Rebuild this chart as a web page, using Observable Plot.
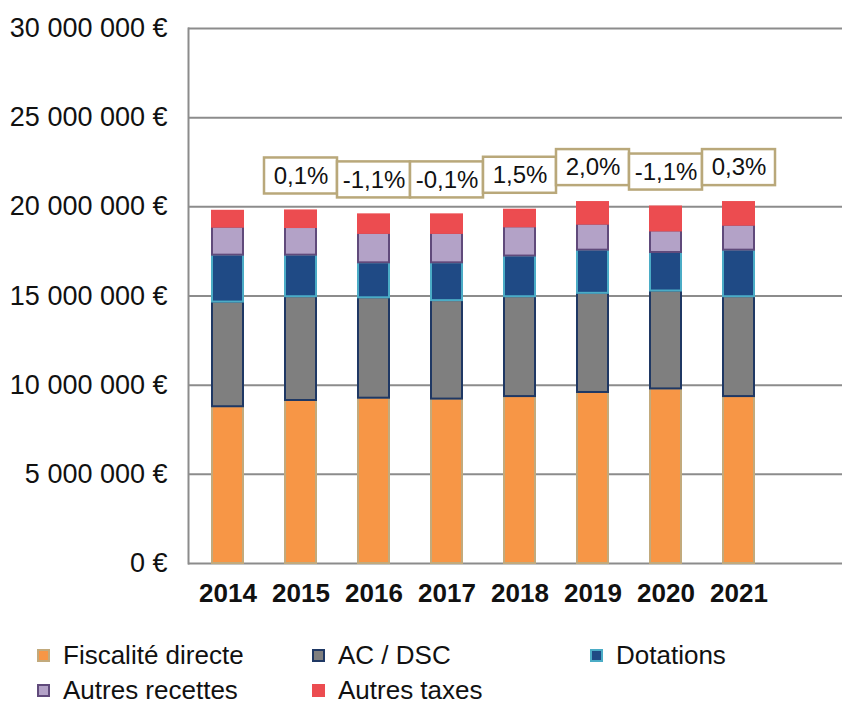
<!DOCTYPE html>
<html>
<head>
<meta charset="utf-8">
<script src="https://cdn.jsdelivr.net/npm/d3@7"></script>
<script src="https://cdn.jsdelivr.net/npm/@observablehq/plot@0.6"></script>
<style>
  body { margin: 0; background: #fff; font-family: "Liberation Sans", Arial, sans-serif; overflow: hidden; }
  #chart svg { display: block; }
  #legend { position: relative; width: 842px; height: 85px; }
  .li { position: absolute; display: flex; align-items: center; font-size: 26px; color: #111; line-height: 30px; height: 30px; white-space: nowrap; }
  .sw { width: 9px; height: 9px; border: 2px solid; margin-right: 13px; }
</style>
</head>
<body>
<div id="chart"></div>
<div id="legend"></div>
<script>
// ---- data ----
const years = ["2014", "2015", "2016", "2017", "2018", "2019", "2020", "2021"];
const series = ["Fiscalité directe", "AC / DSC", "Dotations", "Autres recettes", "Autres taxes"];
// values in euros
const fiscaliteDirecte = [8790000, 9140000, 9270000, 9220000, 9360000, 9590000, 9790000, 9360000];
const acDsc            = [5870000, 5820000, 5630000, 5520000, 5600000, 5560000, 5490000, 5600000];
const dotations        = [2630000, 2330000, 1960000, 2120000, 2280000, 2420000, 2160000, 2610000];
const autresRecettes   = [1570000, 1550000, 1650000, 1650000, 1640000, 1460000, 1210000, 1400000];
const autresTaxes      = [ 890000,  930000, 1040000, 1040000,  930000, 1210000, 1340000, 1270000];
const variationYears = ["2015", "2016", "2017", "2018", "2019", "2020", "2021"];
const variations = ["0,1%", "-1,1%", "-0,1%", "1,5%", "2,0%", "-1,1%", "0,3%"];
const yTicks = [0, 5000000, 10000000, 15000000, 20000000, 25000000, 30000000];

// ---- styles ----
const fills   = ["#f79646", "#7f7f7f", "#1f4a85", "#b3a2c7", "#ec4c50"];
const strokes = ["#c2aa7c", "#1f3864", "#4bacc6", "#604a7b", "#ec4c50"];

const valuesBySeries = [fiscaliteDirecte, acDsc, dotations, autresRecettes, autresTaxes];
const rows = [];
years.forEach((y, i) => {
  series.forEach((s, j) => rows.push({year: y, serie: s, j, value: valuesBySeries[j][i]}));
});
const totals = years.map((y, i) => valuesBySeries.reduce((a, v) => a + v[i], 0));
const labels = variationYears.map((y, k) => ({year: y, label: variations[k], total: totals[years.indexOf(y)]}));

const fmt = d => d3.format(",")(d).replace(/,/g, " ") + " €";
const gridColor = "#8c8c8c";
const W = 842, H = 620, left = 188, step = 73.8;

const chart = Plot.plot({
  width: W,
  height: H,
  marginLeft: left,
  marginRight: 0,
  marginTop: 28,
  marginBottom: 57,
  style: {fontFamily: "'Liberation Sans', Arial, sans-serif", color: "#111", background: "#fff"},
  x: {domain: years, range: [left, left + step * years.length], paddingInner: 0.58, paddingOuter: 0.29, label: null},
  y: {domain: [0, 30000000], label: null},
  color: {type: "identity"},
  marks: [
    Plot.ruleY(yTicks, {stroke: gridColor, strokeWidth: 2}),
    Plot.frame({anchor: "left", stroke: gridColor, strokeWidth: 2}),
    Plot.barY(rows, {
      x: "year", y: "value", z: "serie",
      fill: d => fills[d.j], stroke: d => strokes[d.j], strokeWidth: 2
    }),
    Plot.barY(labels, {
      x: "year", y1: d => d.total + 950000, y2: d => d.total + 2970000,
      fill: "white", stroke: "#b9a87a", strokeWidth: 2.5, insetLeft: -21, insetRight: -21
    }),
    Plot.text(labels, {x: "year", y: "total", dy: -35, text: "label", fontSize: 24, fill: "#111"}),
    Plot.axisY({ticks: yTicks, tickFormat: fmt, tickSize: 0, tickPadding: 21, fontSize: 27}),
    Plot.axisX({tickSize: 0, tickPadding: 20, fontSize: 26, fontWeight: "bold"})
  ]
});
document.getElementById("chart").appendChild(chart);

// ---- legend ----
const legendPos = [[37, 35], [312, 35], [590, 35], [37, 70], [312, 70]];
const legend = document.getElementById("legend");
series.forEach((s, j) => {
  const d = document.createElement("div");
  d.className = "li";
  d.style.left = legendPos[j][0] + "px";
  d.style.top = (legendPos[j][1] - 15) + "px";
  const sw = document.createElement("span");
  sw.className = "sw";
  sw.style.background = fills[j];
  sw.style.borderColor = strokes[j];
  const t = document.createElement("span");
  t.textContent = s;
  d.appendChild(sw);
  d.appendChild(t);
  legend.appendChild(d);
});
</script>
</body>
</html>
